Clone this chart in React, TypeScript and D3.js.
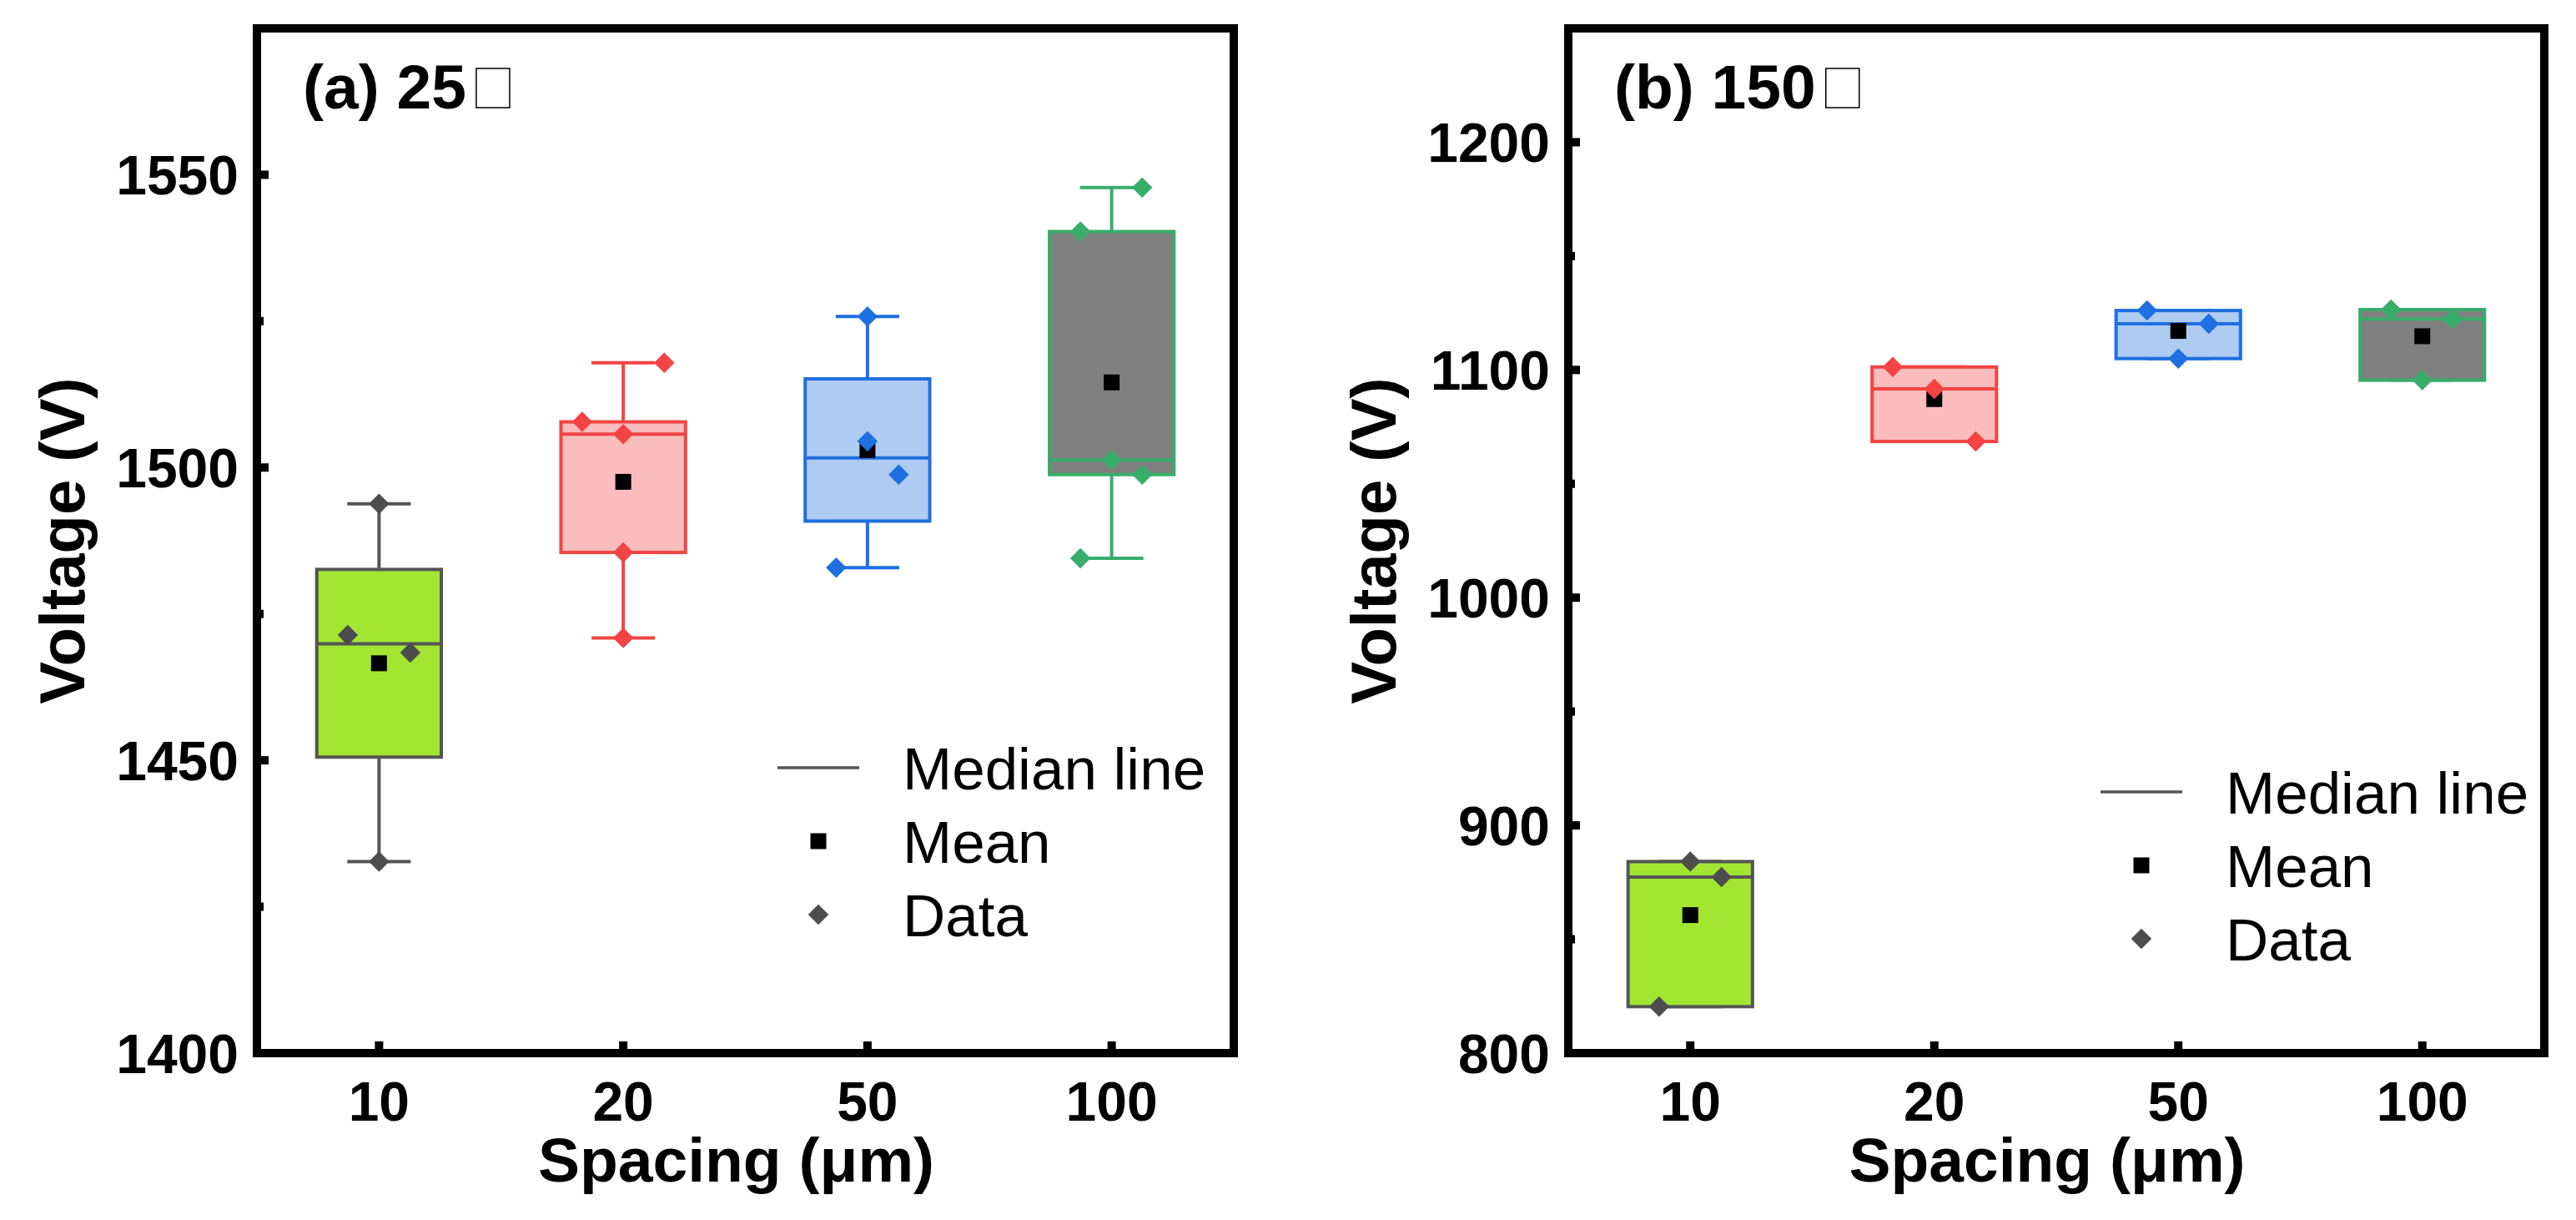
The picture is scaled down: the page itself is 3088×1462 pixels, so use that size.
import { useLayoutEffect, useRef, useState } from "react";
import * as d3 from "d3";

// spacing categories (µm)
const categories = ["10", "20", "50", "100"];

// breakdown voltage read per spacing, 25 °C
const voltA = [
  [1432.7, 1468.4, 1471.4, 1493.8],
  [1470.9, 1485.5, 1505.7, 1507.8, 1517.9],
  [1482.9, 1498.8, 1504.5, 1525.8],
  [1484.5, 1498.8, 1501.3, 1540.3, 1547.8],
];
// horizontal scatter of each point, in category units
const jitterA = [
  [0, 0.128, -0.128, 0],
  [0, 0, 0, -0.168, 0.168],
  [-0.128, 0.128, 0, 0],
  [-0.128, 0.125, 0, -0.128, 0.125],
];

// 150 °C
const voltB = [
  [820.4, 877.3, 884.1],
  [1068.6, 1091.7, 1101.3],
  [1105.0, 1120.3, 1126.1],
  [1095.5, 1122.4, 1126.5],
];
const jitterB = [
  [-0.128, 0.128, 0],
  [0.17, 0, -0.17],
  [0, 0.125, -0.128],
  [0, 0.125, -0.128],
];

const ticksA = [1400, 1450, 1500, 1550];
const minorA = [1425, 1475, 1525];
const ticksB = [800, 900, 1000, 1100, 1200];
const minorB = [850, 950, 1050, 1150];

const boxFill = ["#a2e632", "#fabcbc", "#aecbf2", "#808080"];
const boxStroke = ["#555555", "#f24444", "#1f6fe0", "#38ad6b"];
const dotColor = ["#4d4d4d", "#f24444", "#1f6fe0", "#38ad6b"];

const legendLabels = ["Median line", "Mean", "Data"];

const FONT = "'Liberation Sans', Arial, Helvetica, sans-serif";

// Origin style percentile (empirical distribution with averaging)
function pct(sorted: number[], p: number) {
  const np = sorted.length * p;
  const k = Math.floor(np);
  if (Math.abs(np - k) < 1e-9) return (sorted[k - 1] + sorted[k]) / 2;
  return sorted[Math.ceil(np) - 1];
}

type PanelProps = {
  x0: number;
  x1: number;
  y0: number;
  y1: number;
  domain: [number, number];
  major: number[];
  minor: number[];
  values: number[][];
  jitter: number[][];
  label: string;
  legendX: number;
  legendY: number;
};

const Panel = (p: PanelProps) => {
  const titleRef = useRef<SVGTextElement | null>(null);
  const [titleW, setTitleW] = useState(0);

  useLayoutEffect(() => {
    if (titleRef.current) setTitleW(titleRef.current.getComputedTextLength());
  }, [p.label]);

  const x = d3.scaleLinear().domain([0.5, 4.5]).range([p.x0, p.x1]);
  const y = d3.scaleLinear().domain(p.domain).range([p.y1, p.y0]);
  const step = x(1) - x(0);
  const boxHalf = 0.255 * step;
  const capHalf = 0.13 * step;

  const square = d3.symbol(d3.symbolSquare, 361)()!;
  const diamond = d3.symbol(d3.symbolSquare, 300)()!;

  const stats = p.values.map((v) => {
    const s = [...v].sort((a, b) => a - b);
    return {
      min: s[0],
      max: s[s.length - 1],
      q1: pct(s, 0.25),
      med: pct(s, 0.5),
      q3: pct(s, 0.75),
      mean: d3.mean(s)!,
    };
  });

  const cx = (p.x0 + p.x1) / 2 - 11;
  const cy = (p.y0 + p.y1) / 2;
  const lx = p.x0 + p.legendX;
  const ly = p.y0 + p.legendY;

  return (
    <g>
      {stats.map((s, i) => {
        const c = x(i + 1);
        return (
          <g key={"box" + i} stroke={boxStroke[i]} strokeWidth={4}>
            <line x1={c} x2={c} y1={y(s.max)} y2={y(s.q3)} />
            <line x1={c} x2={c} y1={y(s.q1)} y2={y(s.min)} />
            <line x1={c - capHalf} x2={c + capHalf} y1={y(s.max)} y2={y(s.max)} />
            <line x1={c - capHalf} x2={c + capHalf} y1={y(s.min)} y2={y(s.min)} />
            <rect
              x={c - boxHalf}
              y={y(s.q3)}
              width={boxHalf * 2}
              height={y(s.q1) - y(s.q3)}
              fill={boxFill[i]}
            />
            <line x1={c - boxHalf} x2={c + boxHalf} y1={y(s.med)} y2={y(s.med)} />
          </g>
        );
      })}
      {stats.map((s, i) => (
        <path
          key={"mean" + i}
          d={square}
          fill="#000"
          transform={`translate(${x(i + 1)},${y(s.mean)})`}
        />
      ))}
      {p.values.map((v, i) =>
        v.map((d, j) => (
          <path
            key={`pt${i}-${j}`}
            d={diamond}
            fill={dotColor[i]}
            transform={`translate(${x(i + 1) + p.jitter[i][j] * step},${y(d)}) rotate(45)`}
          />
        ))
      )}

      {/* axes ticks */}
      {p.major.map((t) => (
        <g key={"yt" + t}>
          <line x1={p.x0} x2={p.x0 + 14} y1={y(t)} y2={y(t)} stroke="#000" strokeWidth={10} />
          <text
            x={p.x0 - 22}
            y={y(t)}
            dy="0.36em"
            textAnchor="end"
            fontFamily={FONT}
            fontWeight="bold"
            fontSize={66}
          >
            {t}
          </text>
        </g>
      ))}
      {p.minor.map((t) => (
        <line key={"ym" + t} x1={p.x0} x2={p.x0 + 8} y1={y(t)} y2={y(t)} stroke="#000" strokeWidth={10} />
      ))}
      {categories.map((c, i) => (
        <g key={"xt" + c}>
          <line x1={x(i + 1)} x2={x(i + 1)} y1={p.y1} y2={p.y1 - 14} stroke="#000" strokeWidth={10} />
          <text
            x={x(i + 1)}
            y={p.y1 + 81}
            textAnchor="middle"
            fontFamily={FONT}
            fontWeight="bold"
            fontSize={66}
          >
            {c}
          </text>
        </g>
      ))}

      <rect
        x={p.x0}
        y={p.y0}
        width={p.x1 - p.x0}
        height={p.y1 - p.y0}
        fill="none"
        stroke="#000"
        strokeWidth={10}
      />

      <text
        ref={titleRef}
        x={p.x0 + 55}
        y={p.y0 + 96}
        fontFamily={FONT}
        fontWeight="bold"
        fontSize={75}
      >
        {p.label}
      </text>
      <rect
        x={p.x0 + 55 + titleW + 12}
        y={p.y0 + 48}
        width={40}
        height={47}
        fill="#fff"
        stroke="#000"
        strokeWidth={1.5}
      />

      <text
        transform={`translate(${p.x0 - 234},${cy}) rotate(-90)`}
        dy="0.36em"
        textAnchor="middle"
        fontFamily={FONT}
        fontWeight="bold"
        fontSize={76}
      >
        Voltage (V)
      </text>
      <text
        x={cx}
        y={p.y1 + 154}
        textAnchor="middle"
        fontFamily={FONT}
        fontWeight="bold"
        fontSize={75}
      >
        Spacing (μm)
      </text>

      {/* legend */}
      <line x1={lx} x2={lx + 98} y1={ly} y2={ly} stroke="#555555" strokeWidth={3.5} />
      <path d={square} fill="#000" transform={`translate(${lx + 49},${ly + 88})`} />
      <path d={diamond} fill="#4d4d4d" transform={`translate(${lx + 49},${ly + 176}) rotate(45)`} />
      {legendLabels.map((t, i) => (
        <text
          key={t}
          x={lx + 150}
          y={ly + i * 88}
          dy="0.36em"
          fontFamily={FONT}
          fontSize={71}
        >
          {t}
        </text>
      ))}
    </g>
  );
};

const App = () => {
  return (
    <svg
      width={3088}
      height={1462}
      style={{ position: "absolute", left: 0, top: 0, background: "#fff" }}
    >
      <rect width={3088} height={1462} fill="#fff" />
      <Panel
        x0={308}
        x1={1479}
        y0={34}
        y1={1262}
        domain={[1400, 1575]}
        major={ticksA}
        minor={minorA}
        values={voltA}
        jitter={jitterA}
        label="(a) 25"
        legendX={624}
        legendY={886}
      />
      <Panel
        x0={1880}
        x1={3050}
        y0={34}
        y1={1262}
        domain={[800, 1250]}
        major={ticksB}
        minor={minorB}
        values={voltB}
        jitter={jitterB}
        label="(b) 150"
        legendX={638}
        legendY={915}
      />
    </svg>
  );
};

export default App;
